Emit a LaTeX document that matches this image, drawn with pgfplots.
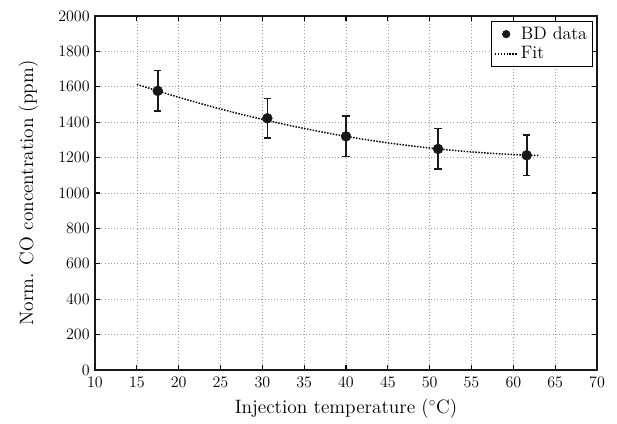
\documentclass[border=0pt]{standalone}
\usepackage{pgfplots}
\pgfplotsset{compat=1.18}
\begin{document}
\begin{tikzpicture}
\begin{axis}[
  scale only axis, width=376.5pt, height=265.5pt,
  xmin=10, xmax=70, ymin=0, ymax=2000,
  xtick={10,15,...,70}, ytick={0,200,...,2000},
  grid=major, grid style={dotted, black!40, line width=0.5pt},
  tick align=inside, major tick length=3.8pt,
  tick style={black, line width=0.8pt},
  axis line style={line width=1.1pt, black!90},
  ticklabel style={font=\fontsize{13}{15}\selectfont},
  xticklabel style={yshift=-1.5pt},
  yticklabel style={xshift=-0.5pt},
  /pgf/number format/1000 sep={},
  scaled ticks=false,
  xlabel={Injection temperature ($^\circ$C)},
  ylabel={Norm. CO concentration (ppm)},
  xlabel style={font=\fontsize{14.5}{16}\selectfont, at={(axis description cs:0.5,-0.108)}, anchor=center},
  ylabel style={font=\fontsize{14.5}{16}\selectfont, at={(axis description cs:-0.133,0.5)}, anchor=center},
  legend style={at={(rel axis cs:0.992,0.986)}, anchor=north east,
    draw=black, line width=0.9pt, font=\fontsize{13.5}{15}\selectfont,
    inner xsep=2pt, inner ysep=2pt, row sep=0pt, cells={anchor=west}},
  legend cell align=left,
  legend image post style={mark size=2.6pt},
]
\coordinate (SW) at (rel axis cs:0,0);
\coordinate (NE) at (rel axis cs:1,1);
\addplot[forget plot, black, line width=1.1pt, dash pattern=on 1.1pt off 1.1pt] coordinates {
(15,1614) (18,1569) (21,1527) (24,1487) (27,1450) (30,1416) (33,1384) (36,1355)
(39,1328) (42,1304) (45,1283) (48,1265) (51,1249) (54,1236) (57,1225) (60,1217) (63,1212)};
\addplot[only marks, mark=*, mark size=3.7pt, black!90, mark options={fill=black!90},
  error bars/.cd, y dir=both, y explicit, error mark options={rotate=90, mark size=2.8pt, line width=1.1pt},
  error bar style={line width=1.2pt}]
  coordinates {
  (17.5,1577) +- (0,114)
  (30.6,1422) +- (0,112)
  (40.0,1320) +- (0,114)
  (51.0,1249) +- (0,114)
  (61.6,1213) +- (0,115)
};
\addlegendentry{BD data}
\addlegendimage{black, line width=1.1pt, dash pattern=on 1.1pt off 1.1pt}
\addlegendentry{Fit}
\end{axis}
\pgfresetboundingbox
\path ([shift={(-71.25pt,-39.75pt)}]SW) rectangle ([shift={(15pt,12pt)}]NE);
\end{tikzpicture}
\end{document}
